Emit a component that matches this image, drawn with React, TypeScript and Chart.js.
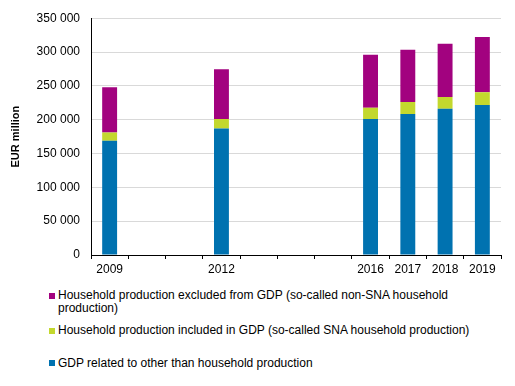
import React, { useEffect, useRef } from "react";
import { Chart, registerables } from "chart.js";

Chart.register(...registerables);

const categories = ["2009", "2010", "2011", "2012", "2013", "2014", "2015", "2016", "2017", "2018", "2019"];
const tickLabels = ["2009", "", "", "2012", "", "", "", "2016", "2017", "2018", "2019"];

const gdpOther = [169000, null, null, 187000, null, null, null, 201000, 208500, 216000, 221700];
const snaHousehold = [12000, null, null, 14000, null, null, null, 16600, 17500, 17500, 18900];
const nonSnaHousehold = [67000, null, null, 73700, null, null, null, 78400, 77300, 78600, 81700];

const seriesNames = [
  "Household production excluded from GDP (so-called non-SNA household production)",
  "Household production included in GDP (so-called SNA household production)",
  "GDP related to other than household production",
];

const colors = {
  nonSna: "#A2027F",
  sna: "#C3D82E",
  other: "#0072B0",
};

const yTitle = "EUR million";
const FONT = "'Liberation Sans', Arial, sans-serif";

export default function App() {
  const ref = useRef<HTMLCanvasElement | null>(null);

  useEffect(() => {
    if (!ref.current) return;
    const chart = new Chart(ref.current, {
      type: "bar",
      data: {
        labels: categories,
        datasets: [
          { label: seriesNames[2], data: gdpOther, backgroundColor: colors.other },
          { label: seriesNames[1], data: snaHousehold, backgroundColor: colors.sna },
          { label: seriesNames[0], data: nonSnaHousehold, backgroundColor: colors.nonSna },
        ],
      },
      options: {
        responsive: false,
        animation: false,
        devicePixelRatio: 1,
        layout: { padding: { top: 15, right: 14, bottom: 0, left: 0 } },
        plugins: { legend: { display: false }, tooltip: { enabled: false } },
        datasets: { bar: { barPercentage: 0.4, categoryPercentage: 1 } },
        scales: {
          x: {
            stacked: true,
            grid: {
              offset: true,
              drawOnChartArea: false,
              drawTicks: true,
              tickLength: 4,
              color: "#000",
            },
            border: { display: true, color: "#000" },
            ticks: {
              autoSkip: false,
              maxRotation: 0,
              padding: 3,
              color: "#000",
              font: { family: FONT, size: 12 },
              callback: (_v: any, i: number) => tickLabels[i],
            },
            afterFit: (s: any) => {
              s.height = 25;
            },
          },
          y: {
            stacked: true,
            min: 0,
            max: 350000,
            grid: {
              drawTicks: false,
              color: (c: any) => (c.index === 0 ? "rgba(0,0,0,0)" : "#d9d9d9"),
            },
            border: { display: true, color: "#000" },
            ticks: {
              stepSize: 50000,
              padding: 11,
              color: "#000",
              font: { family: FONT, size: 12 },
              callback: (v: any) => String(v).replace(/\B(?=(\d{3})+(?!\d))/g, " "),
            },
            title: {
              display: true,
              text: yTitle,
              color: "#000",
              padding: { top: 9, bottom: 0 },
              font: { family: FONT, size: 11, weight: "bold" },
            },
            afterFit: (s: any) => {
              s.width = 91;
            },
          },
        },
      },
    });
    return () => chart.destroy();
  }, []);

  const legendItems = [
    { name: seriesNames[0], color: colors.nonSna, top: 289 },
    { name: seriesNames[1], color: colors.sna, top: 324 },
    { name: seriesNames[2], color: colors.other, top: 356.5 },
  ];

  return (
    <div
      style={{
        position: "absolute",
        left: 0,
        top: 0,
        width: 515,
        height: 386,
        background: "#fff",
        overflow: "hidden",
      }}
    >
      <canvas ref={ref} width={515} height={280} style={{ display: "block", width: 515, height: 280 }} />
      {legendItems.map((it) => (
        <div
          key={it.name}
          style={{
            position: "absolute",
            left: 58,
            top: it.top,
            width: 430,
            fontFamily: FONT,
            fontSize: 12,
            lineHeight: "13.3px",
            color: "#000",
          }}
        >
          <span
            style={{
              position: "absolute",
              left: -9,
              top: 3.5,
              width: 6,
              height: 6,
              background: it.color,
            }}
          />
          {it.name}
        </div>
      ))}
    </div>
  );
}
